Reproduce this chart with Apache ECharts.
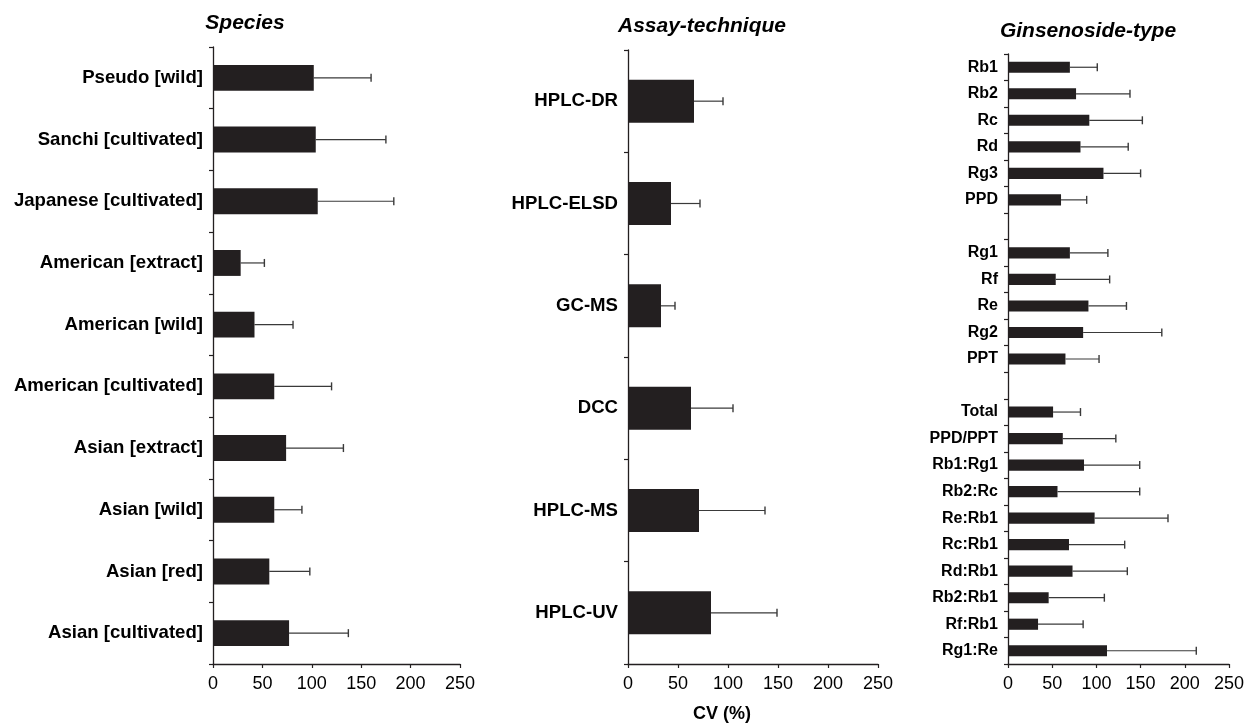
<!DOCTYPE html>
<html>
<head>
<meta charset="utf-8">
<script src="https://cdn.jsdelivr.net/npm/echarts@6/dist/echarts.min.js"></script>
<style>html,body{margin:0;padding:0;background:#fff}#c{width:1247px;height:723px}</style>
</head>
<body>
<div id="c"></div>
<script>
// ---- data ----
const speciesCats = ['Pseudo [wild]','Sanchi [cultivated]','Japanese [cultivated]','American [extract]','American [wild]','American [cultivated]','Asian [extract]','Asian [wild]','Asian [red]','Asian [cultivated]'];
const speciesMean = [102, 104, 106, 28, 42, 62, 74, 62, 57, 77];
const speciesUpper = [160, 175, 183, 52, 81, 120, 132, 90, 98, 137];

const assayCats = ['HPLC-DR','HPLC-ELSD','GC-MS','DCC','HPLC-MS','HPLC-UV'];
const assayMean = [66, 43, 33, 63, 71, 83];
const assayUpper = [95, 72, 47, 105, 137, 149];

const ginsCats = ['Rb1','Rb2','Rc','Rd','Rg3','PPD',' ','Rg1','Rf','Re','Rg2','PPT','  ','Total','PPD/PPT','Rb1:Rg1','Rb2:Rc','Re:Rb1','Rc:Rb1','Rd:Rb1','Rb2:Rb1','Rf:Rb1','Rg1:Re'];
const ginsMean = [70, 77, 92, 82, 108, 60, null, 70, 54, 91, 85, 65, null, 51, 62, 86, 56, 98, 69, 73, 46, 34, 112];
const ginsUpper = [101, 138, 152, 136, 150, 89, null, 113, 115, 134, 174, 103, null, 82, 122, 149, 149, 181, 132, 135, 109, 85, 213];

const xTicks = [0, 50, 100, 150, 200, 250];

// ---- chart ----
const FONT = '"Liberation Sans", Arial, sans-serif';
const BAR = '#231f20';
const ERR = '#3a3a3a';

const grids = [
  {left: 213, top: 47, width: 247, height: 617},
  {left: 628, top: 50, width: 250, height: 614},
  {left: 1008, top: 54, width: 224, height: 610}
];
const cats = [speciesCats, assayCats, ginsCats];
const means = [speciesMean, assayMean, ginsMean];
const uppers = [speciesUpper, assayUpper, ginsUpper];
const labelSizes = [18.6, 18.6, 16];

const xAxes = grids.map((g, i) => ({
  type: 'value', gridIndex: i, min: xTicks[0], max: xTicks[xTicks.length - 1],
  interval: xTicks[1] - xTicks[0],
  axisLine: {show: true, lineStyle: {color: BAR, width: 1.3}},
  axisTick: {show: true, length: 4, lineStyle: {color: BAR, width: 1.2}},
  splitLine: {show: false},
  axisLabel: {color: '#000', fontFamily: FONT, fontSize: 18, margin: 11}
}));
const yAxes = grids.map((g, i) => ({
  type: 'category', gridIndex: i, data: cats[i], inverse: true,
  axisLine: {show: true, lineStyle: {color: BAR, width: 1.3}},
  axisTick: {show: true, length: 4, alignWithLabel: false, lineStyle: {color: BAR, width: 1.2}},
  axisLabel: {color: '#000', fontFamily: FONT, fontWeight: 'bold', fontSize: labelSizes[i], margin: 10, interval: 0}
}));

const series = [];
for (let i = 0; i < 3; i++) {
  series.push({
    type: 'bar', xAxisIndex: i, yAxisIndex: i, data: means[i], barWidth: '42%',
    itemStyle: {color: BAR}, silent: true
  });
  const errData = means[i].map((m, k) => m == null ? null : [k, m, uppers[i][k]]).filter(d => d);
  series.push({
    type: 'custom', xAxisIndex: i, yAxisIndex: i, data: errData, silent: true, z: 1,
    encode: {x: [1, 2], y: 0},
    renderItem: function (params, api) {
      const idx = api.value(0);
      const p0 = api.coord([api.value(1), idx]);
      const p1 = api.coord([api.value(2), idx]);
      const h = 4;
      return {
        type: 'group',
        children: [
          {type: 'line', shape: {x1: p0[0], y1: p0[1], x2: p1[0], y2: p1[1]}, style: {stroke: ERR, lineWidth: 1.2}},
          {type: 'line', shape: {x1: p1[0], y1: p1[1] - h, x2: p1[0], y2: p1[1] + h}, style: {stroke: ERR, lineWidth: 1.4}}
        ]
      };
    }
  });
}

const titles = [
  {text: 'Species', x: 245, y: 23},
  {text: 'Assay-technique', x: 702, y: 26},
  {text: 'Ginsenoside-type', x: 1088, y: 31}
];

const chart = echarts.init(document.getElementById('c'), null, {renderer: 'canvas'});
chart.setOption({
  animation: false,
  backgroundColor: '#fff',
  grid: grids,
  xAxis: xAxes,
  yAxis: yAxes,
  series: series,
  graphic: titles.map(t => ({
    type: 'text', x: t.x, y: t.y,
    style: {text: t.text, font: 'italic bold 21px ' + FONT, fill: '#000', align: 'center', verticalAlign: 'middle'}
  })).concat([{
    type: 'text', x: 722, y: 714,
    style: {text: 'CV (%)', font: 'bold 18px ' + FONT, fill: '#000', align: 'center', verticalAlign: 'middle'}
  }])
});
</script>
</body>
</html>
